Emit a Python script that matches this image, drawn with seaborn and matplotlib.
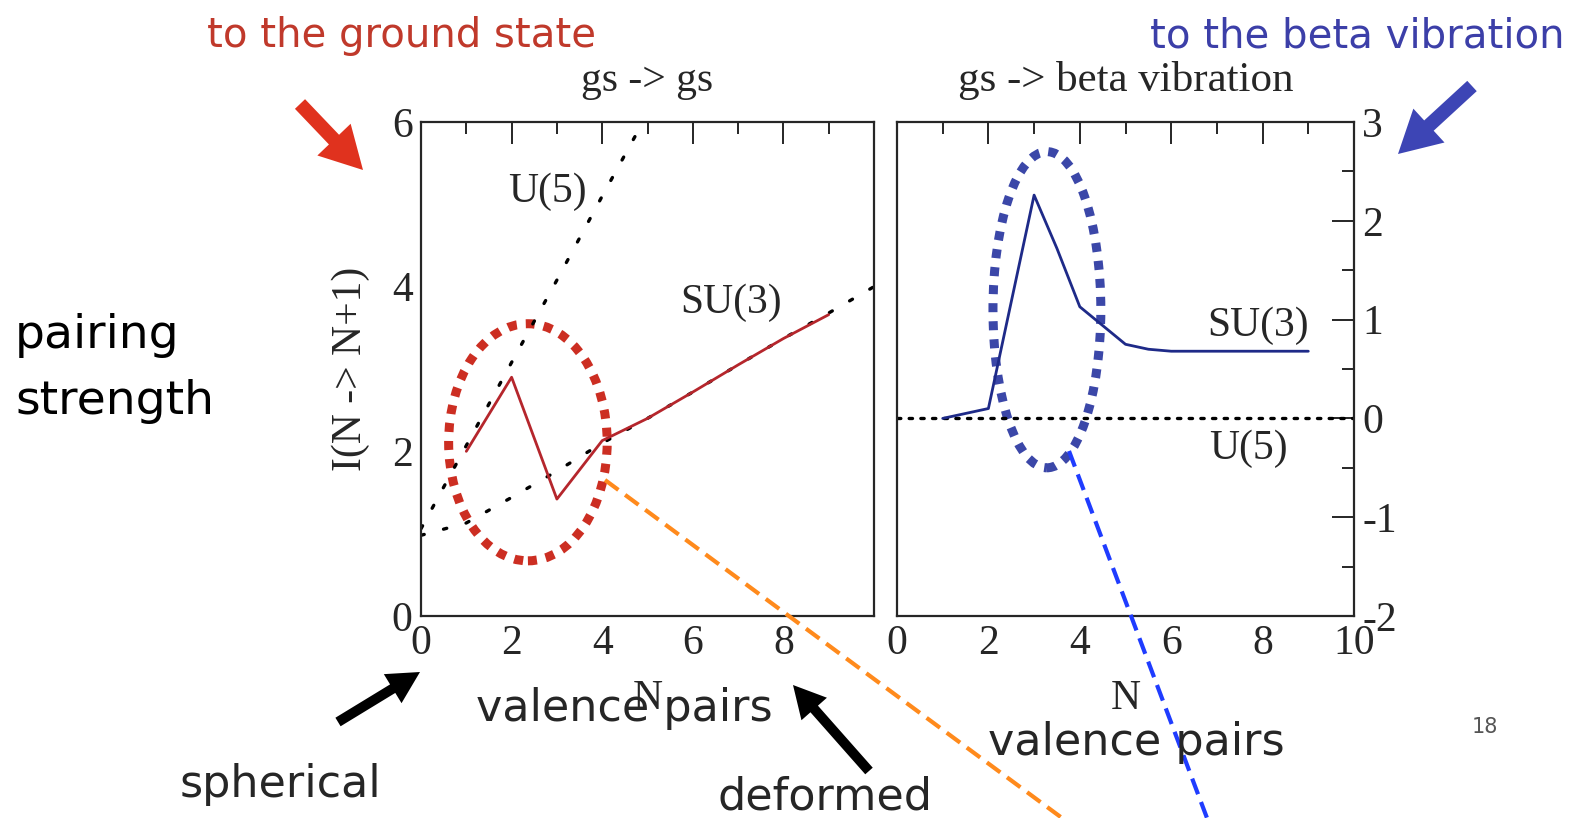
import numpy as np
import pandas as pd
import matplotlib
matplotlib.use("Agg")
import matplotlib.pyplot as plt
import seaborn as sns
from matplotlib.patches import Ellipse, FancyArrow
from matplotlib.ticker import MultipleLocator

# gs -> gs panel
n_su3_gs = [1, 2, 3, 4, 5, 6, 7, 8, 9]
i_su3_gs = [2.0, 2.9, 1.42, 2.13, 2.40, 2.72, 3.05, 3.37, 3.66]
n_u5_gs = [0, 1, 2, 3, 4, 5]
i_u5_gs = [1.06, 2.07, 3.08, 4.08, 5.10, 6.10]
n_su3_lim = [0, 1, 2, 3, 4, 5, 6, 7, 8, 9, 10]
i_su3_lim = [0.98, 1.13, 1.44, 1.76, 2.10, 2.40, 2.72, 3.05, 3.37, 3.68, 4.0]
x_ticks_gs = [0, 2, 4, 6, 8, 10]
x_labels_gs = ["0", "2", "4", "6", "8", ""]

# gs -> beta vibration panel
n_su3_beta = [1, 2, 3, 3.5, 4, 4.5, 5, 5.5, 6, 7, 8, 9]
i_su3_beta = [0.0, 0.10, 2.26, 1.72, 1.13, 0.94, 0.75, 0.70, 0.68, 0.68, 0.68, 0.68]
n_u5_beta = [0, 1, 2, 3, 4, 5, 6, 7, 8, 9, 10]
i_u5_beta = [0, 0, 0, 0, 0, 0, 0, 0, 0, 0, 0]

sns.set_style("white")
plt.rcParams['font.family'] = ['Liberation Serif', 'DejaVu Serif']
plt.rcParams['axes.linewidth'] = 1.6
plt.rcParams['axes.unicode_minus'] = False

RED_LINE = "#b5262c"
RED_MARK = "#cc2e22"
BLUE_LINE = "#1e2a88"
BLUE_MARK = "#3b47a8"
SERIF = 30
HAND = ['DejaVu Sans']

fig = plt.figure(figsize=(15.84, 8.18), dpi=100)
ax1 = fig.add_axes([421/1584, 202/818, 453/1584, 494/818])
ax2 = fig.add_axes([897/1584, 202/818, 457/1584, 494/818])

# left panel
sns.lineplot(x=n_u5_gs, y=i_u5_gs, ax=ax1, color="black", lw=2.4,
             linestyle=(0, (1, 6)), dash_capstyle="round")
sns.lineplot(x=n_su3_lim, y=i_su3_lim, ax=ax1, color="black", lw=2.4,
             linestyle=(0, (1, 6)), dash_capstyle="round")
sns.lineplot(x=n_su3_gs, y=i_su3_gs, ax=ax1, color=RED_LINE, lw=2.0)
ax1.add_patch(Ellipse((2.36, 2.11), 3.5, 2.88, fill=False, ec=RED_MARK,
                      lw=6.5, linestyle=(0, (1, 1))))
ax1.text(6.85, 3.8, "SU(3)", fontsize=SERIF, ha="center", va="center")
ax1.text(2.8, 5.15, "U(5)", fontsize=SERIF, ha="center", va="center")
ax1.set_xlim(0, 10)
ax1.set_ylim(0, 6)
ax1.set_xticks(x_ticks_gs, x_labels_gs)
ax1.xaxis.set_minor_locator(MultipleLocator(1))
ax1.yaxis.set_major_locator(MultipleLocator(2))
ax1.yaxis.set_minor_locator(MultipleLocator(1))
ax1.tick_params(which="both", direction="in", top=True, right=False,
                labelsize=SERIF, width=1.4, pad=6)
ax1.tick_params(which="major", length=16)
ax1.tick_params(which="minor", length=8.5)
ax1.set_xlabel("N", fontsize=SERIF, labelpad=12)
ax1.set_ylabel("I(N -> N+1)", fontsize=SERIF, labelpad=16)
ax1.set_title("gs -> gs", fontsize=SERIF, pad=22)

# right panel
sns.lineplot(x=n_u5_beta, y=i_u5_beta, ax=ax2, color="black", lw=2.4,
             linestyle=(0, (1, 2.5)), dash_capstyle="round")
sns.lineplot(x=n_su3_beta, y=i_su3_beta, ax=ax2, color=BLUE_LINE, lw=2.0)
ax2.add_patch(Ellipse((3.28, 1.1), 2.36, 3.2, fill=False, ec=BLUE_MARK,
                      lw=6.5, linestyle=(0, (1, 1))))
ax2.text(7.9, 0.94, "SU(3)", fontsize=SERIF, ha="center", va="center")
ax2.text(7.68, -0.31, "U(5)", fontsize=SERIF, ha="center", va="center")
ax2.set_xlim(0, 10)
ax2.set_ylim(-2, 3)
ax2.xaxis.set_major_locator(MultipleLocator(2))
ax2.xaxis.set_minor_locator(MultipleLocator(1))
ax2.yaxis.set_major_locator(MultipleLocator(1))
ax2.yaxis.set_minor_locator(MultipleLocator(0.5))
ax2.yaxis.tick_right()
ax2.tick_params(which="both", direction="in", top=True, left=False, right=True,
                labelleft=False, labelright=True, labelsize=SERIF, width=1.4, pad=6)
ax2.tick_params(which="major", length=16)
ax2.tick_params(which="minor", length=8.5)
ax2.set_xlabel("N", fontsize=SERIF, labelpad=12)
ax2.set_title("gs -> beta vibration", fontsize=31, pad=22)

# slide annotations drawn on a full-figure overlay in pixel units
ov = fig.add_axes([0, 0, 1, 1], zorder=10)
ov.set_xlim(0, 1584)
ov.set_ylim(818, 0)
ov.axis("off")
ov.patch.set_alpha(0)

ov.plot([605, 1062], [480, 818], color="#ff8a1c", lw=3, linestyle=(0, (4, 2)))
ov.plot([1069, 1207], [451, 818], color="#1f3cff", lw=3, linestyle=(0, (4, 2)))

ov.add_patch(FancyArrow(300, 104, 63, 66, width=14, head_width=46, head_length=42,
                        length_includes_head=True, color="#e0321e", lw=0))
ov.add_patch(FancyArrow(1472, 86, -74, 68, width=14, head_width=46, head_length=42,
                        length_includes_head=True, color="#3d45b5", lw=0))
ov.add_patch(FancyArrow(338, 722, 82, -50, width=10, head_width=34, head_length=32,
                        length_includes_head=True, color="black", lw=0))
ov.add_patch(FancyArrow(869, 771, -76, -86, width=10, head_width=34, head_length=32,
                        length_includes_head=True, color="black", lw=0))

ov.text(207, 36, "to the ground state", fontsize=29, color="#c0392b",
        ha="left", va="center", family=HAND)
ov.text(1564, 36, "to the beta vibration", fontsize=29, color="#3c3fa8",
        ha="right", va="center", family=HAND)
ov.text(15, 368, "pairing\nstrength", fontsize=34, color="black",
        ha="left", va="center", family=HAND, linespacing=1.6)
ov.text(624, 708, "valence pairs", fontsize=32, ha="center", va="center", family=HAND)
ov.text(1136, 743, "valence pairs", fontsize=32, ha="center", va="center", family=HAND)
ov.text(280, 785, "spherical", fontsize=32, ha="center", va="center", family=HAND)
ov.text(825, 797, "deformed", fontsize=32, ha="center", va="center", family=HAND)
ov.text(1485, 727, "18", fontsize=15, color="#555555", ha="center", va="center",
        family=HAND)

fig.savefig("out.png", dpi=100)
